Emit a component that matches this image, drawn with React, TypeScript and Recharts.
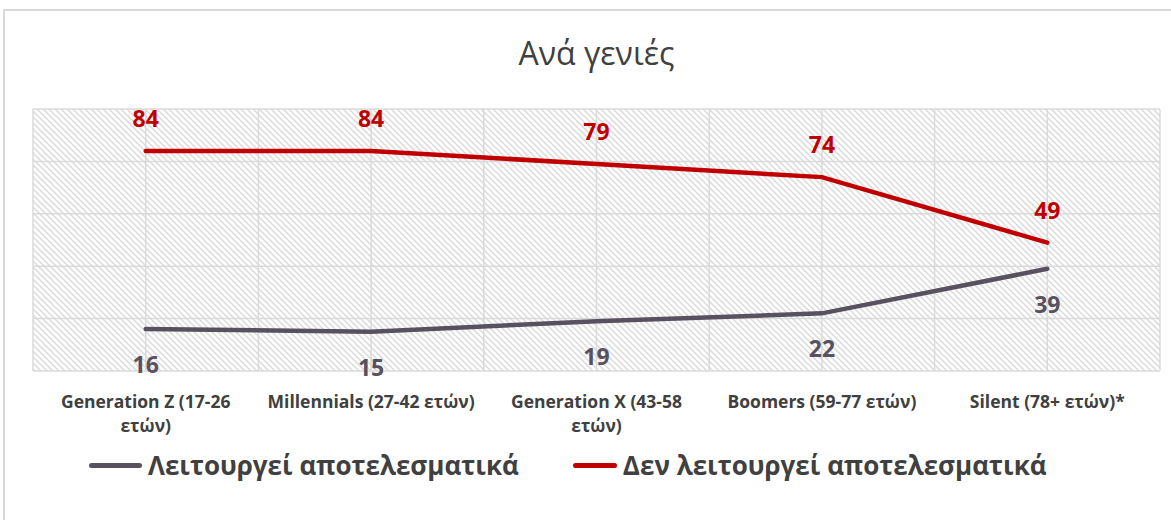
import React from 'react';
import {
  LineChart,
  Line,
  XAxis,
  YAxis,
  CartesianGrid,
  Legend,
  LabelList,
} from 'recharts';

// category labels, '\n' marks where the original wraps
const categories = [
  'Generation Z (17-26\nετών)',
  'Millennials (27-42 ετών)',
  'Generation X (43-58\nετών)',
  'Boomers (59-77 ετών)',
  'Silent (78+ ετών)*',
];
const worksEffectively = [16, 15, 19, 22, 39];
const notWorkingEffectively = [84, 84, 79, 74, 49];
const yTicks = [0, 20, 40, 60, 80, 100];

const seriesNames = {
  yes: 'Λειτουργεί αποτελεσματικά',
  no: 'Δεν λειτουργεί αποτελεσματικά',
};

const COLORS = {
  red: '#c00000',
  gray: '#58515f',
  text: '#404040',
  grid: '#dadada',
};

const FONT = '"Open Sans", "Noto Sans", sans-serif';

const data = categories.map((name, i) => ({
  name,
  yes: worksEffectively[i],
  no: notWorkingEffectively[i],
}));

const CategoryTick = ({ x, y, payload }: any) => {
  const lines = String(payload.value).split('\n');
  return (
    <text
      x={x}
      y={y + 29}
      textAnchor="middle"
      fill={COLORS.text}
      style={{ fontFamily: FONT, fontSize: 17.5, fontWeight: 700 }}
    >
      {lines.map((l, i) => (
        <tspan key={i} x={x} dy={i === 0 ? 0 : 24}>
          {l}
        </tspan>
      ))}
    </text>
  );
};

const makeValueLabel = (color: string, dy: number) => (props: any) => {
  const { x, y, value } = props;
  return (
    <text
      x={x}
      y={y + dy}
      textAnchor="middle"
      dominantBaseline="central"
      fill={color}
      style={{ fontFamily: FONT, fontSize: 23, fontWeight: 700 }}
    >
      {value}
    </text>
  );
};

const LegendContent = () => {
  const items = [
    { label: seriesNames.yes, color: COLORS.gray, lineW: 53 },
    { label: seriesNames.no, color: COLORS.red, lineW: 44 },
  ];
  return (
    <div style={{ display: 'flex', alignItems: 'center', paddingLeft: 89 }}>
      {items.map((it, i) => (
        <div
          key={it.label}
          style={{ display: 'flex', alignItems: 'center', marginRight: i === 0 ? 54 : 0 }}
        >
          <div
            style={{
              width: it.lineW,
              height: 5,
              borderRadius: 3,
              background: it.color,
              marginRight: 6,
            }}
          />
          <span
            style={{
              fontFamily: FONT,
              fontSize: 26,
              fontWeight: 700,
              color: COLORS.text,
              whiteSpace: 'nowrap',
            }}
          >
            {it.label}
          </span>
        </div>
      ))}
    </div>
  );
};

export default function App() {
  return (
    <div
      style={{
        position: 'absolute',
        left: 0,
        top: 0,
        width: 1171,
        height: 520,
        overflow: 'hidden',
        background: '#fff',
      }}
    >
      <div
        style={{
          position: 'absolute',
          left: 3,
          top: 9,
          width: 1200,
          height: 600,
          border: '2px solid #d9d9d9',
        }}
      />
      <div
        style={{
          position: 'absolute',
          top: 31,
          left: 0,
          width: 1193,
          textAlign: 'center',
          fontFamily: FONT,
          fontSize: 32,
          color: COLORS.text,
        }}
      >
        Ανά γενιές
      </div>
      <div style={{ position: 'absolute', left: 0, top: 0 }}>
        <LineChart
          width={1171}
          height={520}
          data={data}
          margin={{ top: 109, right: 11, left: 33, bottom: 79 }}
        >
          <defs>
            <pattern id="hatch" width="6" height="6" patternUnits="userSpaceOnUse">
              <rect width="6" height="6" fill="#ffffff" />
              <path
                d="M-1,5 L1,7 M0,0 L6,6 M5,-1 L7,1"
                stroke="#dadada"
                strokeWidth={1.5}
              />
            </pattern>
          </defs>
          <CartesianGrid
            fill="url(#hatch)"
            fillOpacity={1}
            stroke={COLORS.grid}
            strokeWidth={1.5}
            verticalCoordinatesGenerator={({ offset }: any) =>
              Array.from({ length: 11 }, (_, i) => offset.left + (i * offset.width) / 10)
            }
          />
          <XAxis
            dataKey="name"
            scale="band"
            interval={0}
            axisLine={false}
            tickLine={false}
            height={70}
            tick={<CategoryTick />}
          />
          <YAxis hide domain={[0, 100]} ticks={yTicks} />
          <Legend
            layout="horizontal"
            verticalAlign="middle"
            content={<LegendContent />}
            wrapperStyle={{ position: 'absolute', left: 0, top: 447, width: 1171 }}
          />
          <Line
            dataKey="yes"
            name={seriesNames.yes}
            stroke={COLORS.gray}
            strokeWidth={4.5}
            strokeLinecap="round"
            dot={false}
            activeDot={false}
            isAnimationActive={false}
          >
            <LabelList dataKey="yes" content={makeValueLabel(COLORS.gray, 35)} />
          </Line>
          <Line
            dataKey="no"
            name={seriesNames.no}
            stroke={COLORS.red}
            strokeWidth={4.5}
            strokeLinecap="round"
            dot={false}
            activeDot={false}
            isAnimationActive={false}
          >
            <LabelList dataKey="no" content={makeValueLabel(COLORS.red, -33)} />
          </Line>
        </LineChart>
      </div>
    </div>
  );
}
